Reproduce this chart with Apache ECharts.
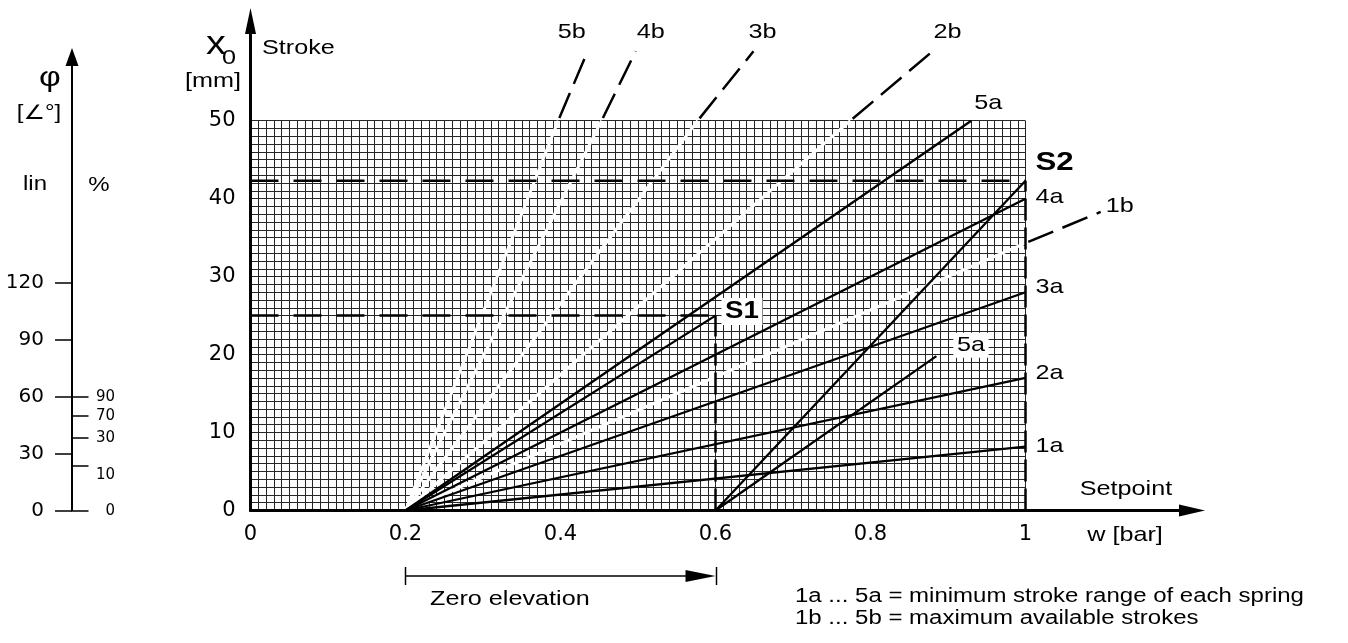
<!DOCTYPE html>
<html>
<head>
<meta charset="utf-8">
<script src="https://cdn.jsdelivr.net/npm/echarts@6/dist/echarts.min.js"></script>
<style>
  html, body { margin: 0; padding: 0; background: #fff; }
  #main { width: 1348px; height: 643px; }
</style>
</head>
<body>
<div id="main"></div>
<script>
// tick labels
var xTicks = [0, 0.2, 0.4, 0.6, 0.8, 1];
var yTicks = [0, 10, 20, 30, 40, 50];

// springs, all start at the zero point 0.2 bar
var zeroStart = [0.2, 0];
var springA = ['1a', '2a', '3a', '4a', '5a'];
var springAEnd = [[1, 8.2], [1, 17], [1, 28], [1, 40], [0.93, 50]];
var springB = ['1b', '2b', '3b', '4b', '5b'];
var springBEdge = [[1, 34.3], [0.774, 50], [0.577, 50], [0.453, 50], [0.397, 50]];
var springBTip = [[1.097, 38.3], [0.88, 58.9], [0.649, 58.9], [0.497, 58.9], [0.435, 58.9]];

// working points S1 / S2 and the line with zero elevation
var s1 = [0.6, 25];
var s2 = [1, 42.3];
var shiftStart = [0.6, 0];
var shift5aEnd = [0.885, 19.8];
var zeroElevation = [0.2, 0.6];

// left scale: angle (lin) and % ticks placed on the angle scale
var degTicks = [0, 30, 60, 90, 120];
var pctTicks = [0, 10, 30, 70, 90];
var pctAtDeg = [0, 23.6, 38.4, 49.8, 60];

var FONT = 'DejaVu Sans';
var chart = echarts.init(document.getElementById('main'));

// main grid: 0..1 bar over 775px, 0..50 mm over 389.8px
// outer grid (axes with arrows) uses the same scale, only reaching further
var outerXMax = (1192 - 250.5) / 775;
var outerYMax = (643 - 132.5 - 21) / 7.796;

var series = [];
springB.forEach(function (name, i) {
  // 1b..5b, white inside the grid
  series.push({
    type: 'line', xAxisIndex: 0, yAxisIndex: 0, z: 3,
    data: [zeroStart, springBEdge[i]], symbol: 'none', silent: true,
    lineStyle: { color: '#fff', width: 3 }
  });
  // continued black dashed outside of it
  series.push({
    type: 'line', xAxisIndex: 2, yAxisIndex: 3, z: 5,
    data: [springBEdge[i], springBTip[i]], symbol: 'none', silent: true,
    lineStyle: { color: '#000', width: 2.5, type: [27, 10], dashOffset: -3 }
  });
});
// 1a..5a
springA.forEach(function (name, i) {
  series.push({
    type: 'line', xAxisIndex: 0, yAxisIndex: 0, z: 4,
    data: [zeroStart, springAEnd[i]], symbol: 'none', silent: true,
    lineStyle: { color: '#000', width: 2.3 }
  });
});
series.push({
  type: 'line', z: 4, data: [zeroStart, s1], symbol: 'none', silent: true,
  lineStyle: { color: '#000', width: 2.3 }
});
series.push({
  type: 'line', z: 4, data: [shiftStart, s2], symbol: 'none', silent: true,
  lineStyle: { color: '#000', width: 2.3 }
});
series.push({
  type: 'line', z: 4, data: [shiftStart, shift5aEnd], symbol: 'none', silent: true,
  lineStyle: { color: '#000', width: 2.3 }
});
// dashed helper lines for S1 and S2
[[[0, s1[1]], s1], [[s1[0], 0], s1], [[0, s2[1]], s2], [[s2[0], 0], s2]].forEach(function (seg, i) {
  series.push({
    type: 'line', z: 6, data: seg, symbol: 'none', silent: true,
    lineStyle: { color: '#000', width: 2.5, type: i % 2 === 0 ? [28, 15] : [22, 7] }
  });
});

var option = {
  animation: false,
  backgroundColor: '#fff',
  grid: [
    { left: 250.5, right: 322.5, top: 120.7, bottom: 132.5 },
    { left: 72, right: 1275, top: 57, bottom: 132.3 },
    { left: 250.5, right: 156, top: 21, bottom: 132.5 }
  ],
  xAxis: [
    {
      gridIndex: 0, type: 'value', min: 0, max: 1, interval: 0.01, z: 2,
      axisLine: { show: false }, axisTick: { show: false },
      splitLine: { show: true, lineStyle: { color: '#262626', width: 1 } },
      axisLabel: { customValues: xTicks, color: '#000', fontFamily: FONT, fontSize: 21, margin: 14 }
    },
    { gridIndex: 1, type: 'value', min: -1, max: 1, show: false },
    {
      gridIndex: 2, type: 'value', min: 0, max: outerXMax, z: 10,
      axisLine: { show: true, onZero: false, symbol: ['none', 'triangle'], symbolSize: [12, 26],
        lineStyle: { color: '#000', width: 3 } },
      axisTick: { show: false }, axisLabel: { show: false }, splitLine: { show: false }
    }
  ],
  yAxis: [
    {
      gridIndex: 0, type: 'value', min: 0, max: 50, interval: 1, z: 2,
      axisLine: { show: false }, axisTick: { show: false },
      splitLine: { show: true, lineStyle: { color: '#262626', width: 1 } },
      axisLabel: { customValues: yTicks, color: '#000', fontFamily: FONT, fontSize: 21, margin: 15 }
    },
    {
      gridIndex: 1, type: 'value', min: 0, max: 239.1, position: 'left',
      axisLine: { show: true, onZero: false, symbol: ['none', 'triangle'], symbolSize: [13, 18],
        lineStyle: { color: '#000', width: 2 } },
      axisTick: { show: true, customValues: degTicks, length: 17, lineStyle: { color: '#000', width: 1.5 } },
      axisLabel: { customValues: degTicks, margin: 28, color: '#000', fontFamily: FONT, fontSize: 20,
        padding: [0, 0, 8, 0] },
      splitLine: { show: false }
    },
    {
      gridIndex: 1, type: 'value', min: 0, max: 239.1, position: 'left',
      axisLine: { show: false },
      axisTick: { show: true, inside: true, customValues: pctAtDeg, length: 16, lineStyle: { color: '#000', width: 1.5 } },
      axisLabel: {
        inside: true, customValues: pctAtDeg, margin: 43, align: 'right',
        color: '#000', fontFamily: FONT, fontSize: 15,
        formatter: function (v) {
          var i = pctAtDeg.indexOf(v);
          if (i === 1) return '{lo|' + pctTicks[i] + '}';
          return String(pctTicks[i]);
        },
        rich: { lo: { fontFamily: FONT, fontSize: 15, color: '#000', padding: [18, 0, 0, 0] } }
      },
      splitLine: { show: false }
    },
    {
      gridIndex: 2, type: 'value', min: 0, max: outerYMax, position: 'left', z: 10,
      axisLine: { show: true, onZero: false, symbol: ['none', 'triangle'], symbolSize: [11, 26],
        lineStyle: { color: '#000', width: 3 } },
      axisTick: { show: false }, axisLabel: { show: false }, splitLine: { show: false }
    }
  ],
  series: series
};
chart.setOption(option);

// text, placed after layout
function txt(s, x, y, size, opts) {
  opts = opts || {};
  var style = {
    text: s, fill: '#000',
    font: (opts.bold ? 'bold ' : '') + size + 'px "Liberation Sans", "DejaVu Sans"',
    align: opts.align || 'left', textAlign: opts.align || 'left',
    verticalAlign: 'middle', textVerticalAlign: 'middle'
  };
  if (opts.bg) { style.backgroundColor = '#fff'; style.padding = [3, 3, 1, 3]; }
  return { type: 'text', x: x, y: y, scaleX: 1.2, z: 100, silent: true, style: style };
}
function px(p) { return chart.convertToPixel({ gridIndex: 0 }, p); }

var g = [];
// axis titles
g.push(txt('x', 206, 45, 33));
g.push(txt('0', 222, 58, 21));
g.push(txt('[mm]', 185, 81, 21));
g.push(txt('Stroke', 262, 48, 21));
g.push(txt('Setpoint', 1126, 489, 21, { align: 'center' }));
g.push(txt('w [bar]', 1125, 535, 21, { align: 'center' }));
g.push(txt('φ', 50, 78, 28, { align: 'center' }));
g.push(txt('[∠°]', 39, 113, 20, { align: 'center' }));
g.push(txt('lin', 35, 184, 20, { align: 'center' }));
g.push(txt('%', 99, 185, 20, { align: 'center' }));
g.push(txt('Zero elevation', 430, 599, 21));
g.push(txt('1a ... 5a = minimum stroke range of each spring', 795, 596, 20));
g.push(txt('1b ... 5b = maximum available strokes', 795, 618, 20));

// spring labels
var offA = [[10, 0], [10, -5], [10, -5], [10, -1], [3, -17]];
springA.forEach(function (name, i) {
  var p = px(springAEnd[i]);
  g.push(txt(name, p[0] + offA[i][0], p[1] + offA[i][1], 21));
});
var offB = [[5, -6], [1, -19], [-5, -19], [1, -19], [-30, -19]];
springB.forEach(function (name, i) {
  var p = px(springBTip[i]);
  g.push(txt(name, p[0] + offB[i][0], p[1] + offB[i][1], 21));
});
var p5 = px(shift5aEnd);
g.push(txt('5a', p5[0] + 17, p5[1] - 11, 21, { bg: true }));
var pS1 = px(s1);
g.push(txt('S1', pS1[0] + 6, pS1[1] - 4, 23, { bold: true, bg: true }));
var pS2 = px(s2);
g.push(txt('S2', pS2[0] + 10, pS2[1] - 18, 26, { bold: true }));

// zero elevation bracket
var z0 = px([zeroElevation[0], 0]), z1 = px([zeroElevation[1], 0]);
var yb = 576;
g.push({ type: 'line', silent: true, shape: { x1: z0[0], y1: yb, x2: z1[0] - 20, y2: yb }, style: { stroke: '#000', lineWidth: 1.5 } });
g.push({ type: 'line', silent: true, shape: { x1: z0[0], y1: yb - 9, x2: z0[0], y2: yb + 9 }, style: { stroke: '#000', lineWidth: 1.5 } });
g.push({ type: 'line', silent: true, shape: { x1: z1[0] + 1, y1: yb - 9, x2: z1[0] + 1, y2: yb + 9 }, style: { stroke: '#000', lineWidth: 1.5 } });
g.push({ type: 'polygon', silent: true, shape: { points: [[z1[0], yb], [z1[0] - 30, yb - 6], [z1[0] - 30, yb + 6]] }, style: { fill: '#000' } });

chart.setOption({ graphic: g });
</script>
</body>
</html>
